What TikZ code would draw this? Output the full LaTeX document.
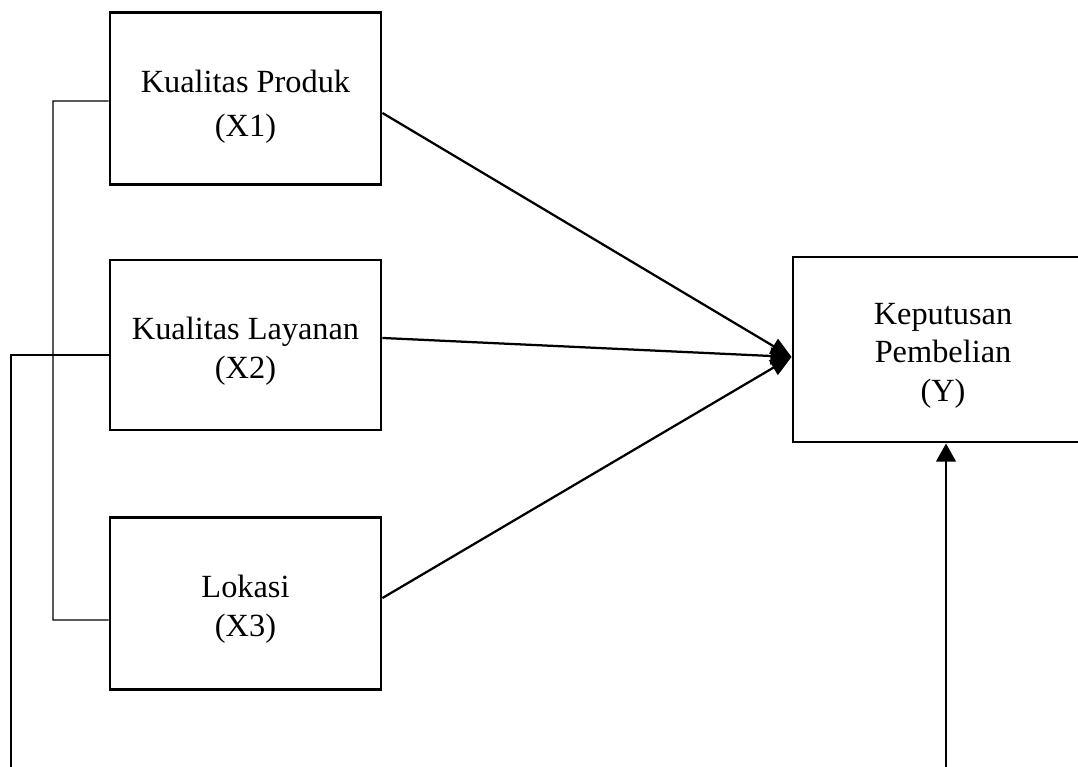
\documentclass[tikz,border=0pt]{standalone}
\usepackage{fontspec}
\setmainfont{Liberation Serif}
\usepackage{tikz}
\usetikzlibrary{arrows.meta,positioning,calc}

\begin{document}
\begin{tikzpicture}[
    x=0.025cm, y=-0.025cm,
    var/.style={rectangle, draw, line width=2pt, minimum width=6.775cm,
                minimum height=4.3cm},
    txt/.style={align=center, font=\fontsize{23}{27.5}\selectfont},
    arrow/.style={-{Triangle[length=15pt,width=12pt]}, line width=1.6pt},
    link/.style={line width=1pt}
]
\clip (0,0) rectangle (1078,767);
\useasboundingbox (0,0) rectangle (1078,767);

% variabel bebas
\node[var] (x1) at (245.5,98.5) {};
\node[var, minimum height=4.25cm] (x2) at (245.5,345) {};
\node[var] (x3) at (245.5,603.5) {};
\node[txt, font=\fontsize{23}{31}\selectfont] (x1t) at ([yshift=-6pt]x1.center)
    {Kualitas Produk\\(X1)};
\node[txt] (x2t) at ([yshift=-4.3pt]x2.center) {Kualitas Layanan\\(X2)};
\node[txt] (x3t) at ([yshift=-4.3pt]x3.center) {Lokasi\\(X3)};
% variabel terikat
\node[var, minimum width=7.5cm, minimum height=4.625cm] (y) at (943,349.5) {};
\node[txt] (yt) at ([yshift=-4.4pt]y.center) {Keputusan\\Pembelian\\(Y)};

\coordinate (tip) at ([yshift=-5.3pt]y.west);
\coordinate (bot) at (946,767);
\coordinate (left) at (11,767);

\draw[arrow] ([yshift=-10.3pt]x1.east) -- (tip);
\draw[arrow] ([yshift=5pt]x2.east) -- (tip);
\draw[arrow] ([yshift=3.9pt]x3.east) -- (tip);
\draw[arrow, -{Triangle[length=13pt,width=14pt]}] (bot) -- (bot |- y.south);

\draw[link] ([yshift=-1.8pt]x1.west) -| (53,620) -- ([yshift=-11.7pt]x3.west);
\draw[link] ([yshift=-7pt]x2.west) -| (left);
\end{tikzpicture}
\end{document}
